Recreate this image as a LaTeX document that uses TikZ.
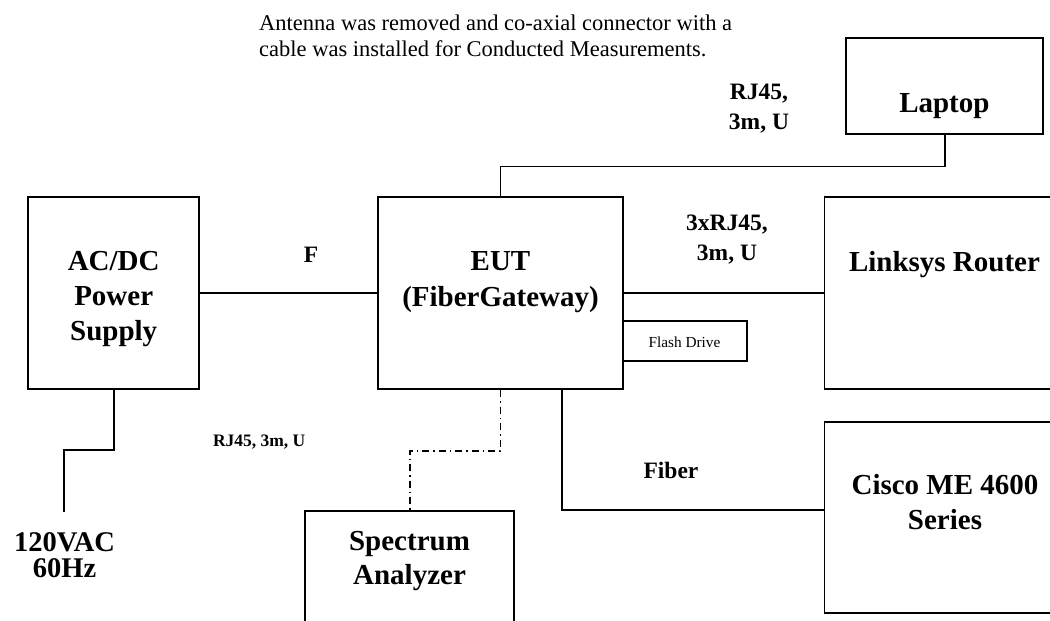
\documentclass[tikz,border=0pt]{standalone}
\usepackage{fontspec}
\setmainfont{Liberation Serif}
\usetikzlibrary{calc}
\tikzset{
  box/.style={draw, line width=1.8pt, rectangle, inner sep=0pt},
  wire/.style={line width=1.7pt},
  dashdotwire/.style={line width=1.7pt, dash pattern=on 7pt off 4pt on 1.5pt off 4pt},
  big/.style={font=\bfseries\fontsize{29}{35}\selectfont, align=center, inner sep=0pt},
  mid/.style={font=\bfseries\fontsize{23.5}{30}\selectfont, align=center, inner sep=0pt},
  note/.style={font=\fontsize{22.5}{26}\selectfont, inner sep=0pt, anchor=base west}
}
\begin{document}
\begin{tikzpicture}[x=1pt,y=-1pt]
\clip (0,0) rectangle (1050,621);
% boxes
\node[box, minimum width=170.7pt, minimum height=192.6pt] (acdc) at (113.7,293) {};
\node[box, minimum width=245pt, minimum height=192pt] (eut) at (500.5,293.3) {};
\node[box, minimum width=197.3pt, minimum height=96pt] (laptop) at (944.4,86.3) {};
\node[box, minimum width=240.5pt, minimum height=192pt] (linksys) at (944.8,293) {};
\node[box, minimum width=240.5pt, minimum height=191pt] (cisco) at (944.8,517.2) {};
\node[box, minimum width=209.3pt, minimum height=192pt] (spec) at (409.65,607) {};
\node[box, minimum width=124.3pt, minimum height=40.3pt] (flash) at (685.15,340.85) {};
% box texts
\node[big] (acdctxt) at (113.7,299) {AC/DC\\Power\\Supply};
\node[big, font=\bfseries\fontsize{29}{35.7}\selectfont] (euttxt) at (500.5,282) {EUT\\(FiberGateway)};
\node[big, anchor=base] (laptoptxt) at (944.4,112.8) {Laptop};
\node[big, anchor=base] (linksystxt) at (944.5,271.5) {Linksys Router};
\node[big] (ciscotxt) at (945,502.5) {Cisco ME 4600\\Series};
\node[big, font=\bfseries\fontsize{29}{34}\selectfont] (spectxt) at (409.5,561) {Spectrum\\Analyzer};
\node[font=\fontsize{15.3}{18}\selectfont, inner sep=0pt, anchor=base] (flashtxt) at (684.5,347) {Flash Drive};
\node[big, font=\bfseries\fontsize{28.5}{26.5}\selectfont] (vac) at (64.5,555) {120VAC\\60Hz};
% note text
\node[note] (noteA) at (259,30.7) {Antenna was removed and co-axial connector with a};
\node[note] (noteB) at (259,56.5) {cable was installed for Conducted Measurements.};
% cable labels
\node[mid] (rjlap) at (759,108.5) {RJ45,\\3m, U};
\node[mid] (rjlink) at (727,239.8) {3xRJ45,\\3m, U};
\node[mid, anchor=base] (flbl) at (311,262.6) {F};
\node[mid, anchor=base] (fiblbl) at (671,478.3) {Fiber};
\node[font=\bfseries\fontsize{17.5}{20}\selectfont, inner sep=0pt, anchor=base] (rjspec) at (259.2,446.5) {RJ45, 3m, U};
% connectors
\coordinate (pwr) at (64.3,511.7);
\draw[wire] (acdc.east) -- (acdc.east -| eut.west);
\draw[wire] (eut.east) -- (eut.east -| linksys.west);
\draw[wire] ($(laptop.south)+(0.6,0)$) -- ++(0,31.4) -| (eut.north);
\draw[wire] (acdc.south) -- ++(0,60) -| (pwr);
\draw[wire] ($(eut.south west)+(184.7,0)$) |- ($(cisco.north west)+(0,89.5)$);
\draw[dashdotwire] (eut.south) -- ++(0,60.7) -| (spec.north);
\end{tikzpicture}
\end{document}
